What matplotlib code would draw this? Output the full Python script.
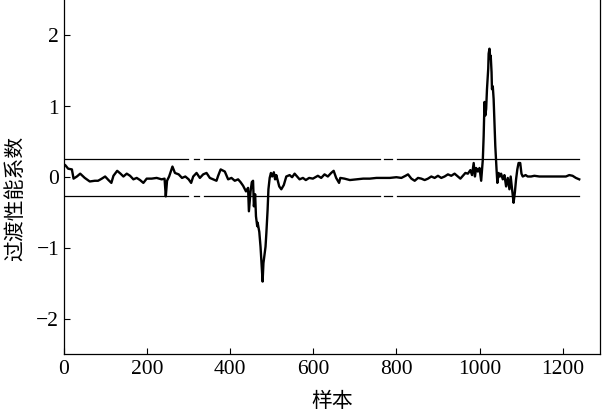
import matplotlib
matplotlib.use("Agg")
import matplotlib.pyplot as plt

# 样本序号与过渡性能系数
sample_idx = [0, 3, 10, 19, 23, 31, 39, 50, 62, 74, 82, 91, 99, 107, 114, 119, 128, 136,
              143, 151, 159, 167, 175, 183, 191, 199, 211, 223, 235, 242, 245, 248, 253,
              261, 267, 276, 284, 292, 300, 306, 311, 319, 327, 335, 343, 351, 359, 367,
              371, 377, 387, 395, 403, 411, 419, 425, 431, 438, 443, 445, 449, 452, 455,
              457, 460, 462, 465, 466, 470, 473, 475, 478, 480, 482, 485, 487, 490, 492,
              495, 498, 501, 505, 508, 511, 518, 523, 529, 535, 543, 549, 555, 561, 567,
              575, 582, 590, 599, 611, 619, 627, 635, 643, 649, 655, 662, 665, 675, 688,
              704, 720, 736, 752, 768, 784, 800, 812, 822, 828, 836, 844, 852, 860, 868,
              876, 884, 892, 900, 908, 916, 924, 932, 940, 948, 954, 960, 966, 972, 978,
              982, 986, 989, 992, 996, 1000, 1004, 1008, 1010, 1012, 1014, 1016, 1018,
              1021, 1022, 1024, 1026, 1027, 1029, 1030, 1032, 1034, 1036, 1038, 1041,
              1043, 1046, 1049, 1052, 1056, 1060, 1064, 1068, 1072, 1075, 1079, 1082,
              1085, 1088, 1091, 1094, 1098, 1101, 1104, 1111, 1116, 1124, 1132, 1144,
              1160, 1176, 1192, 1208, 1216, 1224, 1232, 1240]
coef = [0.17, 0.16, 0.11, 0.10, -0.03, 0.0, 0.04, -0.02, -0.07, -0.06, -0.06, -0.03, 0.0,
        -0.05, -0.09, 0.01, 0.08, 0.04, 0.0, 0.04, 0.01, -0.04, -0.02, -0.05, -0.09, -0.03,
        -0.03, -0.02, -0.04, -0.03, -0.28, -0.06, 0.0, 0.14, 0.05, 0.03, -0.02, 0.0,
        -0.04, -0.09, 0.0, 0.05, -0.02, 0.03, 0.05, -0.02, -0.04, -0.06, 0.01, 0.10,
        0.07, -0.04, -0.02, -0.06, -0.04, -0.08, -0.13, -0.21, -0.16, -0.49, -0.21,
        -0.08, -0.06, -0.42, -0.25, -0.56, -0.70, -0.65, -0.78, -0.99, -1.18, -1.48,
        -1.22, -1.13, -0.99, -0.80, -0.47, -0.18, -0.02, 0.05, 0.0, 0.06, -0.04, 0.02,
        -0.14, -0.18, -0.12, 0.0, 0.02, -0.01, 0.04, 0.0, -0.04, -0.02, -0.05, -0.02,
        -0.03, 0.01, -0.02, 0.03, 0.0, 0.05, 0.08, -0.02, -0.09, -0.02, -0.03, -0.05,
        -0.04, -0.03, -0.03, -0.02, -0.02, -0.02, -0.01, -0.02, 0.01, 0.03, -0.03,
        -0.06, -0.02, -0.03, -0.05, -0.03, 0.0, -0.02, 0.01, -0.02, 0.0, 0.03, 0.01,
        0.04, 0.0, -0.03, 0.01, 0.05, 0.04, 0.09, 0.02, 0.19, 0.0, 0.12, 0.07, 0.12,
        -0.06, 0.24, 0.57, 1.05, 0.86, 0.95, 1.23, 1.52, 1.73, 1.80, 1.66, 1.70, 1.47,
        1.23, 1.27, 1.09, 0.76, 0.43, 0.10, -0.09, 0.05, 0.0, 0.04, -0.04, 0.02, -0.14,
        -0.02, -0.18, 0.0, -0.21, -0.37, -0.23, -0.04, 0.10, 0.19, 0.19, 0.04, 0.0,
        0.02, 0.0, 0.0, 0.01, 0.0, 0.0, 0.0, 0.0, 0.0, 0.02, 0.01, -0.02, -0.04]

# 阈值线（原图中线条有几处断开）
upper_thr = 0.24
lower_thr = -0.27
thr_segments = [(0, 299), (312, 326), (336, 760), (770, 790), (802, 1240)]

x_ticks = [0, 200, 400, 600, 800, 1000, 1200]
y_ticks = [-2, -1, 0, 1, 2]

plt.rcParams['font.family'] = ['Liberation Serif', 'Noto Sans CJK SC']
plt.rcParams['axes.unicode_minus'] = True

fig = plt.figure(figsize=(6.02, 4.14), dpi=100)
ax = fig.add_axes([64 / 602, 59 / 414, 536 / 602, 355 / 414])

for a, b in thr_segments:
    ax.plot([a, b], [upper_thr, upper_thr], color='black', lw=0.9)
    ax.plot([a, b], [lower_thr, lower_thr], color='black', lw=0.9)

ax.plot(sample_idx, coef, color='black', lw=1.7)

ax.set_xlim(0, 1290)
ax.set_ylim(-2.5, 2.5)
ax.set_xticks(x_ticks)
ax.set_yticks(y_ticks)
ax.set_yticklabels([str(v).replace('-', '\u2212') for v in y_ticks])
ax.tick_params(direction='in', labelsize=15.5, length=4, width=0.8)
ax.spines['top'].set_visible(False)
for s in ['left', 'right', 'bottom']:
    ax.spines[s].set_linewidth(0.9)

ax.set_xlabel('样本', fontsize=15, family='Noto Sans CJK SC', labelpad=8)
ax.set_ylabel('过渡性能系数', fontsize=15, family='Noto Sans CJK SC')
ax.yaxis.set_label_coords(-0.07, 0.44)

fig.savefig('out.png', dpi=100)
